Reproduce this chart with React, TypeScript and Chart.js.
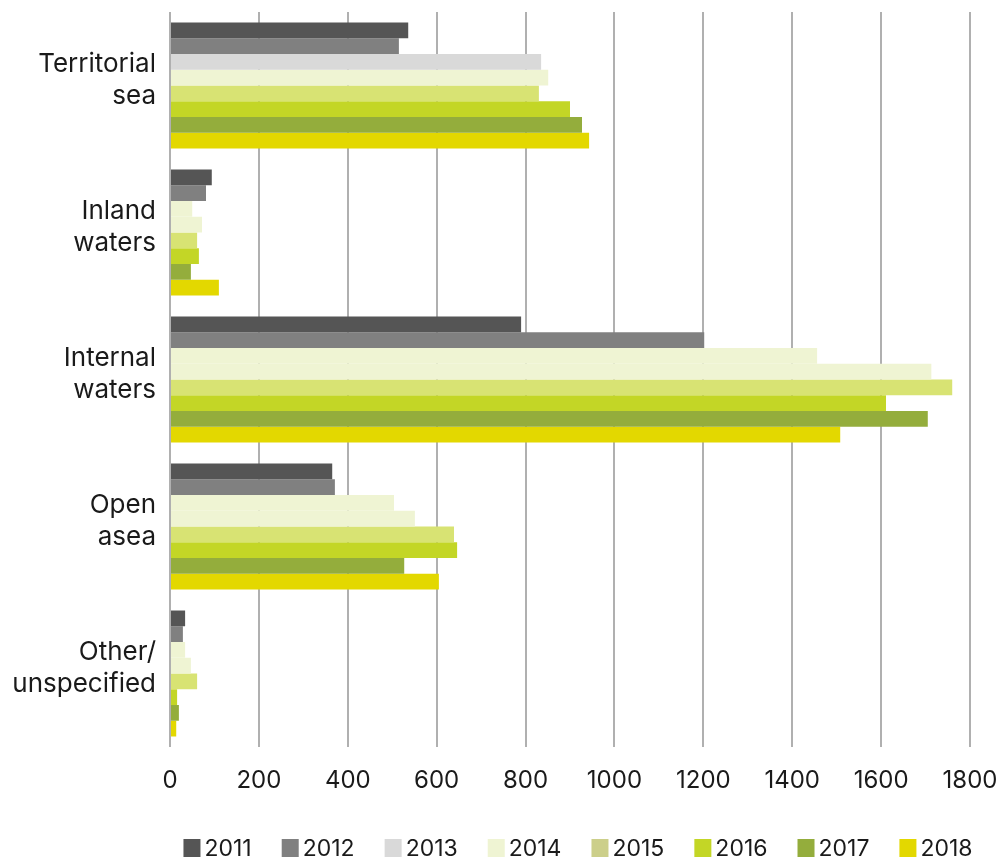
import React, { useEffect, useRef } from "react";
import { Chart, registerables } from "chart.js";

Chart.register(...registerables);

const categories: string[][] = [
  ["Territorial", "sea"],
  ["Inland", "waters"],
  ["Internal", "waters"],
  ["Open", "asea"],
  ["Other/", "unspecified"],
];

const years = ["2011", "2012", "2013", "2014", "2015", "2016", "2017", "2018"];

const v2011 = [536, 94, 790, 365, 34];
const v2012 = [515, 81, 1202, 371, 29];
const v2013 = [835, 50, 1456, 504, 34];
const v2014 = [851, 72, 1713, 551, 47];
const v2015 = [830, 61, 1760, 639, 61];
const v2016 = [900, 65, 1611, 646, 16];
const v2017 = [927, 47, 1705, 527, 20];
const v2018 = [943, 110, 1508, 605, 14];

const seriesValues = [v2011, v2012, v2013, v2014, v2015, v2016, v2017, v2018];

const barColors: (string | string[])[] = [
  "#555555",
  "#808080",
  ["#d9d9d9", "#eff4d3", "#eff4d3", "#eff4d3", "#eff4d3"],
  "#eff4d3",
  "#d8e373",
  "#c3d626",
  "#94ad3c",
  "#e3d800",
];

const legendColors = [
  "#555555",
  "#808080",
  "#d9d9d9",
  "#eff4d3",
  "#cccf8a",
  "#c3d626",
  "#94ad3c",
  "#e3d800",
];

const xTicks = [0, 200, 400, 600, 800, 1000, 1200, 1400, 1600, 1800];

const FONT = "Inter, 'Noto Sans', sans-serif";

const bottomLegend = {
  id: "bottomLegend",
  afterDraw(chart: any) {
    const ctx = chart.ctx as CanvasRenderingContext2D;
    const boxW = 17;
    const boxH = 18;
    const gapText = 4;
    const gapItem = 30;
    const fontSize = 23;
    ctx.save();
    ctx.font = `${fontSize}px ${FONT}`;
    const widths = years.map((y) => ctx.measureText(y).width);
    const total =
      widths.reduce((a, w) => a + boxW + gapText + w, 0) +
      gapItem * (years.length - 1);
    const centerX = 578;
    const cy = chart.height - 11;
    let x = centerX - total / 2;
    ctx.textBaseline = "middle";
    ctx.textAlign = "left";
    years.forEach((y, i) => {
      ctx.fillStyle = legendColors[i];
      ctx.fillRect(x, cy - boxH / 2, boxW, boxH);
      x += boxW + gapText;
      ctx.fillStyle = "#1a1a1a";
      ctx.fillText(y, x, cy + 1);
      x += widths[i] + gapItem;
    });
    ctx.restore();
  },
};

export default function App() {
  const canvasRef = useRef<HTMLCanvasElement | null>(null);

  useEffect(() => {
    document.body.style.margin = "0";
    const canvas = canvasRef.current;
    if (!canvas) return;
    const chart = new Chart(canvas, {
      type: "bar",
      data: {
        labels: categories,
        datasets: years.map((y, i) => ({
          label: y,
          data: seriesValues[i],
          backgroundColor: barColors[i] as any,
          borderWidth: 0,
          categoryPercentage: 0.857,
          barPercentage: 1.0,
        })),
      },
      plugins: [bottomLegend],
      options: {
        indexAxis: "y",
        responsive: false,
        animation: false,
        devicePixelRatio: 1,
        layout: { padding: { top: 12, right: 28, left: 0, bottom: 44 } },
        scales: {
          x: {
            min: 0,
            max: 1800,
            afterBuildTicks: (scale: any) => {
              scale.ticks = xTicks.map((v) => ({ value: v }));
            },
            grid: {
              color: "#b0b0b0",
              lineWidth: 2,
              drawTicks: false,
            },
            border: { display: false },
            ticks: {
              color: "#1a1a1a",
              font: { family: FONT, size: 24 },
              padding: 19,
              maxRotation: 0,
              callback: (v: any) => String(v),
            },
            afterFit: (scale: any) => {
              scale.height = 68;
              scale.paddingLeft = 0;
              scale.paddingRight = 0;
            },
          },
          y: {
            grid: { display: false, drawTicks: false },
            border: { display: false },
            ticks: {
              color: "#1a1a1a",
              font: { family: FONT, size: 26, lineHeight: 1.23 },
              padding: 14,
              labelOffset: -5,
            },
            afterFit: (scale: any) => {
              scale.width = 170;
              scale.paddingTop = 0;
              scale.paddingBottom = 0;
            },
          },
        },
        plugins: {
          tooltip: { enabled: false },
          legend: { display: false },
        },
      },
    });
    return () => chart.destroy();
  }, []);

  return (
    <div style={{ width: 998, height: 859 }}>
      <canvas ref={canvasRef} width={998} height={859} />
    </div>
  );
}
